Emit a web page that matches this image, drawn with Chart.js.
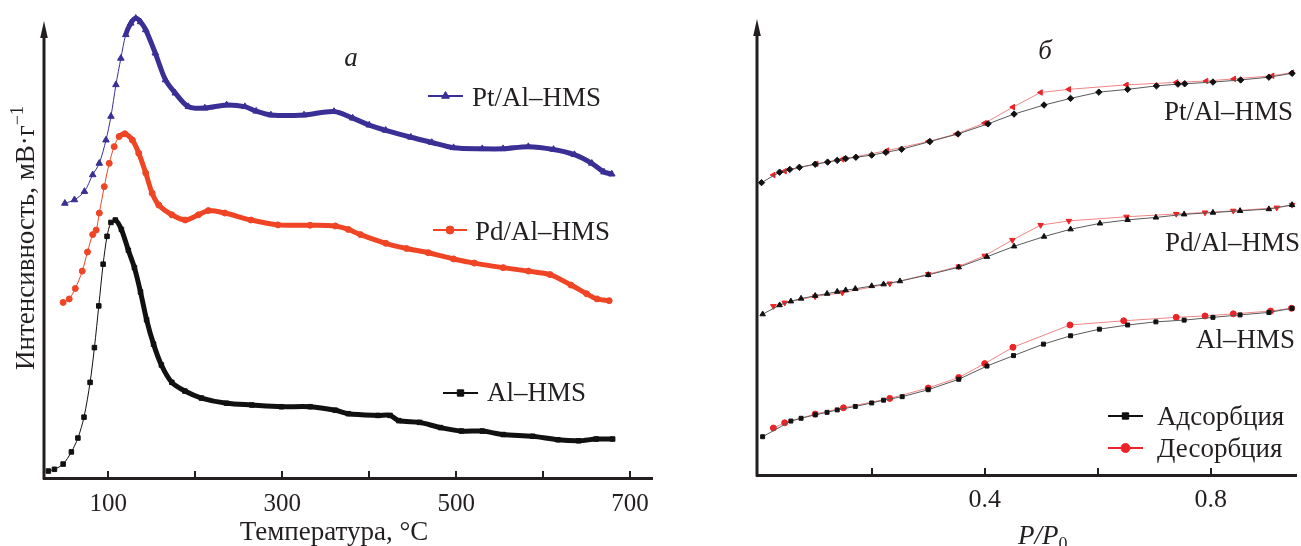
<!DOCTYPE html>
<html lang="ru">
<head>
<meta charset="utf-8">
<title>ТПД и изотермы адсорбции</title>
<script src="https://cdn.jsdelivr.net/npm/chart.js@4.4.1/dist/chart.umd.min.js"></script>
<style>
  html, body { margin: 0; padding: 0; background: #fff; }
  #wrap { position: relative; width: 1301px; height: 546px; overflow: hidden; }
  #left { position: absolute; left: 0; top: 0; }
  #right { position: absolute; left: 660px; top: 0; }
</style>
</head>
<body>
<div id="wrap">
  <canvas id="left" width="660" height="546"></canvas>
  <canvas id="right" width="641" height="546"></canvas>
</div>
<script>
// --- панель а: ТПД, температура (°C) и интенсивность (отн. ед.) ---
const alTemp = [31, 38, 48, 57.5, 65, 72, 79, 84, 89, 94, 98.5, 103, 108, 115, 123, 130, 137, 144, 152, 161, 173, 188, 207, 236, 265, 299, 332, 361, 376, 410, 424, 434, 458, 482, 506, 530, 554, 588, 617, 641, 661, 680];
const alInt  = [20, 25, 40, 75, 115, 175, 275, 375, 495, 615, 695, 735, 742, 715, 655, 605, 535, 455, 385, 325, 275, 250, 230, 215, 210, 205, 205, 195, 185, 180, 180, 165, 160, 145, 135, 135, 125, 120, 110, 107, 112, 112];

const pdTemp = [48, 55, 62, 70, 76, 82, 86, 89.6, 95.3, 101, 106.7, 112.4, 119, 127.6, 135, 143, 150.4, 158, 173, 188.5, 203.6, 215, 234, 264, 295, 332, 361, 376, 390, 419, 443, 468, 497, 521, 554, 583, 608, 632, 650, 662, 676];
const pdInt  = [505, 515, 545, 595, 650, 700, 713, 762, 838, 905, 953, 982, 990, 972, 934, 877, 819, 785, 757, 742, 757, 769, 762, 742, 728, 727, 725, 715, 700, 675, 660, 648, 630, 618, 605, 595, 585, 555, 530, 515, 510];

const ptTemp = [50, 61, 72.5, 82, 89.6, 97.3, 103, 108.7, 114.4, 120, 125.8, 131.5, 137, 143, 154, 165.7, 177, 192, 211, 236, 257, 270, 287, 325, 359.5, 381, 400, 419, 448, 472, 497, 530, 554, 583, 612, 636, 656, 670, 679];
const ptInt  = [790, 800, 824, 872, 905, 972, 1040, 1131, 1207, 1275, 1308, 1322, 1312, 1289, 1222, 1145, 1107, 1068, 1064, 1073, 1068, 1055, 1044, 1044, 1054, 1035, 1015, 1000, 980, 965, 950, 947, 947, 953, 945, 930, 905, 880, 874];

const tempTicks  = [100, 200, 300, 400, 500, 600, 700];
const tempLabels = ['100', '', '300', '', '500', '', '700'];

// --- панель б: изотермы, P/P0 и количество адсорбированного азота (отн. ед.) ---
const ptAdsP = [0.005, 0.037, 0.055, 0.072, 0.1, 0.122, 0.139, 0.154, 0.172, 0.2, 0.225, 0.253, 0.303, 0.353, 0.406, 0.452, 0.505, 0.552, 0.602, 0.653, 0.704, 0.742, 0.754, 0.804, 0.853, 0.903, 0.944];
const ptAdsV = [840, 870, 878, 884, 893, 899, 904, 909, 913, 919, 927, 936, 958, 980, 1009, 1037, 1063, 1082, 1100, 1108, 1118, 1123, 1124, 1129, 1135, 1143, 1154];
const ptDesP = [0.026, 0.046, 0.102, 0.148, 0.227, 0.3, 0.35, 0.4, 0.45, 0.499, 0.549, 0.651, 0.739, 0.792, 0.841, 0.909, 0.944];
const ptDesV = [862, 873, 894, 907, 932, 958, 980, 1011, 1057, 1099, 1108, 1121, 1128, 1132, 1138, 1147, 1156];

const pdAdsP = [0.007, 0.037, 0.057, 0.075, 0.1, 0.121, 0.139, 0.154, 0.171, 0.2, 0.221, 0.25, 0.3, 0.354, 0.404, 0.452, 0.505, 0.552, 0.604, 0.653, 0.703, 0.753, 0.804, 0.852, 0.903, 0.944];
const pdAdsV = [462, 488, 499, 507, 515, 521, 527, 531, 535, 543, 548, 557, 575, 597, 627, 657, 685, 706, 723, 733, 740, 749, 754, 759, 764, 776];
const pdDesP = [0.026, 0.046, 0.1, 0.148, 0.232, 0.3, 0.354, 0.4, 0.449, 0.499, 0.549, 0.651, 0.739, 0.79, 0.84, 0.917, 0.944];
const pdDesV = [485, 495, 513, 524, 550, 577, 599, 630, 675, 718, 730, 742, 750, 754, 759, 768, 776];

const alAdsP = [0.007, 0.057, 0.075, 0.1, 0.121, 0.139, 0.171, 0.2, 0.221, 0.254, 0.3, 0.354, 0.404, 0.451, 0.504, 0.552, 0.603, 0.653, 0.703, 0.753, 0.804, 0.852, 0.903, 0.944];
const alAdsV = [110, 155, 163, 173, 180, 187, 197, 207, 215, 225, 245, 275, 313, 343, 376, 400, 419, 431, 440, 445, 453, 460, 467, 479];
const alDesP = [0.026, 0.046, 0.1, 0.15, 0.232, 0.3, 0.354, 0.4, 0.45, 0.551, 0.646, 0.739, 0.79, 0.84, 0.906, 0.943];
const alDesV = [135, 150, 175, 193, 220, 250, 280, 320, 367, 431, 443, 453, 457, 463, 471, 479];

const pTicks  = [0.2, 0.4, 0.6, 0.8];
const pLabels = ['', '0.4', '', '0.8'];

// --- стили ---
const SERIF = '"Liberation Serif", "Times New Roman", serif';
const INK = '#231f20';
const PT_COLOR = '#3a2f95';
const PD_COLOR = '#ef4525';
const AL_COLOR = '#111111';
const ADS_LINE = '#5a5a5a';
const DES_LINE = '#f08585';
const DES_POINT = '#ec2326';

const xy = (xs, ys) => xs.map((x, i) => ({ x: x, y: ys[i] }));

// оси со стрелкой, внутренние засечки, подписи и легенда
const decor = {
  id: 'decor',
  afterDraw(chart, args, opts) {
    const { ctx, chartArea: a } = chart;
    const xs = chart.scales.x;
    ctx.save();
    ctx.strokeStyle = INK;
    ctx.fillStyle = INK;

    ctx.lineWidth = 3;
    ctx.beginPath();
    ctx.moveTo(a.left, a.bottom + 1.5);
    ctx.lineTo(a.left, opts.arrowTop + 12);
    ctx.stroke();
    ctx.beginPath();
    ctx.moveTo(a.left, opts.arrowTop);
    ctx.lineTo(a.left - 3.8, opts.arrowTop + 17);
    ctx.lineTo(a.left + 3.8, opts.arrowTop + 17);
    ctx.closePath();
    ctx.fill();

    ctx.lineWidth = 2;
    xs.ticks.forEach(t => {
      const px = Math.round(xs.getPixelForValue(t.value));
      ctx.beginPath();
      ctx.moveTo(px, a.bottom);
      ctx.lineTo(px, a.bottom - 7);
      ctx.stroke();
    });

    (opts.legend || []).forEach(l => {
      const ds = chart.data.datasets[l.dataset];
      ctx.strokeStyle = l.lineColor || ds.borderColor;
      ctx.lineWidth = 2;
      ctx.beginPath();
      ctx.moveTo(l.x1, l.y);
      ctx.lineTo(l.x2, l.y);
      ctx.stroke();
      ctx.fillStyle = ds.pointBackgroundColor || ds.backgroundColor;
      ctx.strokeStyle = ds.pointBackgroundColor || ds.backgroundColor;
      ctx.lineWidth = 1;
      Chart.helpers.drawPoint(ctx, {
        pointStyle: ds.pointStyle,
        radius: l.radius || 4.5,
        rotation: ds.pointRotation || 0,
        borderWidth: 1
      }, (l.x1 + l.x2) / 2, l.y);
    });

    ctx.fillStyle = INK;
    ctx.textBaseline = 'alphabetic';
    (opts.texts || []).forEach(t => {
      const parts = t.parts || [{ text: t.text, font: t.font }];
      ctx.save();
      ctx.translate(t.x, t.y);
      if (t.rotate) ctx.rotate(t.rotate);
      let total = 0;
      parts.forEach(p => { ctx.font = p.font; total += ctx.measureText(p.text).width; });
      let cx = t.align === 'center' ? -total / 2 : t.align === 'right' ? -total : 0;
      ctx.textAlign = 'left';
      parts.forEach(p => {
        ctx.font = p.font;
        ctx.fillText(p.text, cx, p.dy || 0);
        cx += ctx.measureText(p.text).width;
      });
      ctx.restore();
    });
    ctx.restore();
  }
};

const F27 = '27px ' + SERIF;
const I27 = 'italic 27px ' + SERIF;

function tpdSet(label, xs, ys, color, style, radius, denseFrom) {
  return {
    label: label,
    data: xy(xs, ys),
    borderColor: color,
    backgroundColor: color,
    pointBackgroundColor: color,
    pointBorderColor: color,
    pointStyle: style,
    pointRadius: radius,
    pointBorderWidth: 1,
    borderWidth: 1,
    tension: 0.3,
    segment: { borderWidth: c => (c.p0.parsed.x >= denseFrom ? 5 : 1) }
  };
}

new Chart(document.getElementById('left'), {
  type: 'line',
  data: {
    datasets: [
      tpdSet('Pt/Al–HMS', ptTemp, ptInt, PT_COLOR, 'triangle', 3.8, 118),
      tpdSet('Pd/Al–HMS', pdTemp, pdInt, PD_COLOR, 'circle', 3, 110),
      tpdSet('Al–HMS', alTemp, alInt, AL_COLOR, 'rect', 3.2, 104)
    ]
  },
  options: {
    responsive: false,
    animation: false,
    events: [],
    layout: { padding: { left: 44, top: 10, right: 2, bottom: 0 } },
    scales: {
      x: {
        type: 'linear',
        min: 26,
        max: 726,
        afterBuildTicks: s => { s.ticks = tempTicks.map(v => ({ value: v })); },
        afterFit: s => { s.height = 68; },
        grid: { display: false, drawTicks: false },
        border: { display: true, color: INK, width: 3 },
        ticks: {
          callback: (v, i) => tempLabels[i],
          color: INK,
          font: { family: SERIF, size: 25 },
          padding: 11,
          maxRotation: 0,
          autoSkip: false
        }
      },
      y: { display: false, min: 0, max: 1346 }
    },
    plugins: {
      legend: { display: false },
      tooltip: { enabled: false },
      decor: {
        arrowTop: 21,
        legend: [
          { dataset: 0, x1: 428, x2: 463, y: 96 },
          { dataset: 1, x1: 433, x2: 467, y: 230, radius: 4 },
          { dataset: 2, x1: 443, x2: 478, y: 393, radius: 4.5 }
        ],
        texts: [
          { text: 'а', font: I27, x: 351, y: 66, align: 'center' },
          { text: 'Pt/Al–HMS', font: F27, x: 472, y: 106 },
          { text: 'Pd/Al–HMS', font: F27, x: 475, y: 240 },
          { text: 'Al–HMS', font: F27, x: 487, y: 401 },
          { text: 'Температура, °C', font: F27, x: 334, y: 540, align: 'center' },
          {
            x: 34, y: 238, rotate: -Math.PI / 2, align: 'center',
            parts: [
              { text: 'Интенсивность, мВ·г', font: F27 },
              { text: '−1', font: '18px ' + SERIF, dy: -11 }
            ]
          }
        ]
      }
    }
  },
  plugins: [decor]
});

function isoSet(label, xs, ys, lineColor, pointColor, style, rotation, radius) {
  return {
    label: label,
    data: xy(xs, ys),
    showLine: true,
    borderColor: lineColor,
    backgroundColor: pointColor,
    pointBackgroundColor: pointColor,
    pointBorderColor: pointColor,
    pointStyle: style,
    pointRotation: rotation,
    pointRadius: radius,
    pointBorderWidth: 1,
    borderWidth: 1,
    tension: 0
  };
}

new Chart(document.getElementById('right'), {
  type: 'line',
  data: {
    datasets: [
      isoSet('Адсорбция', alAdsP, alAdsV, ADS_LINE, AL_COLOR, 'rect', 0, 2.8),
      isoSet('Десорбция', alDesP, alDesV, DES_LINE, DES_POINT, 'circle', 0, 3),
      isoSet('Pt/Al–HMS адсорбция', ptAdsP, ptAdsV, ADS_LINE, AL_COLOR, 'rectRot', 0, 3.2),
      isoSet('Pd/Al–HMS адсорбция', pdAdsP, pdAdsV, ADS_LINE, AL_COLOR, 'triangle', 0, 3.2),
      isoSet('Pt/Al–HMS десорбция', ptDesP, ptDesV, DES_LINE, DES_POINT, 'triangle', -90, 3.2),
      isoSet('Pd/Al–HMS десорбция', pdDesP, pdDesV, DES_LINE, DES_POINT, 'triangle', 180, 3.2)
    ]
  },
  options: {
    responsive: false,
    animation: false,
    events: [],
    layout: { padding: { left: 97, top: 10, right: 0, bottom: 0 } },
    scales: {
      x: {
        type: 'linear',
        min: -0.003,
        max: 0.951,
        afterBuildTicks: s => { s.ticks = pTicks.map(v => ({ value: v })); },
        afterFit: s => { s.height = 71; },
        grid: { display: false, drawTicks: false },
        border: { display: true, color: INK, width: 3 },
        ticks: {
          callback: (v, i) => pLabels[i],
          color: INK,
          font: { family: SERIF, size: 26 },
          padding: 10,
          maxRotation: 0,
          autoSkip: false
        }
      },
      y: { display: false, min: 0, max: 1336 }
    },
    plugins: {
      legend: { display: false },
      tooltip: { enabled: false },
      decor: {
        arrowTop: 19,
        legend: [
          { dataset: 0, x1: 448, x2: 483, y: 416, lineColor: '#111', radius: 4.5 },
          { dataset: 1, x1: 448, x2: 483, y: 448, lineColor: DES_POINT, radius: 4.5 }
        ],
        texts: [
          { text: 'б', font: I27, x: 385, y: 59, align: 'center' },
          { text: 'Pt/Al–HMS', font: F27, x: 633, y: 120, align: 'right' },
          { text: 'Pd/Al–HMS', font: F27, x: 640, y: 251, align: 'right' },
          { text: 'Al–HMS', font: F27, x: 635, y: 348, align: 'right' },
          { text: 'Адсорбция', font: F27, x: 497, y: 425 },
          { text: 'Десорбция', font: F27, x: 497, y: 457 },
          {
            x: 358, y: 544,
            parts: [
              { text: 'P/P', font: I27 },
              { text: '0', font: '18px ' + SERIF, dy: 6 }
            ]
          },
          { text: 'Количество адсорбированного', font: F27, x: 722, y: 239, rotate: -Math.PI / 2, align: 'center' },
          { text: 'азота', font: F27, x: 749, y: 231, rotate: -Math.PI / 2, align: 'center' }
        ]
      }
    }
  },
  plugins: [decor]
});
</script>
</body>
</html>
